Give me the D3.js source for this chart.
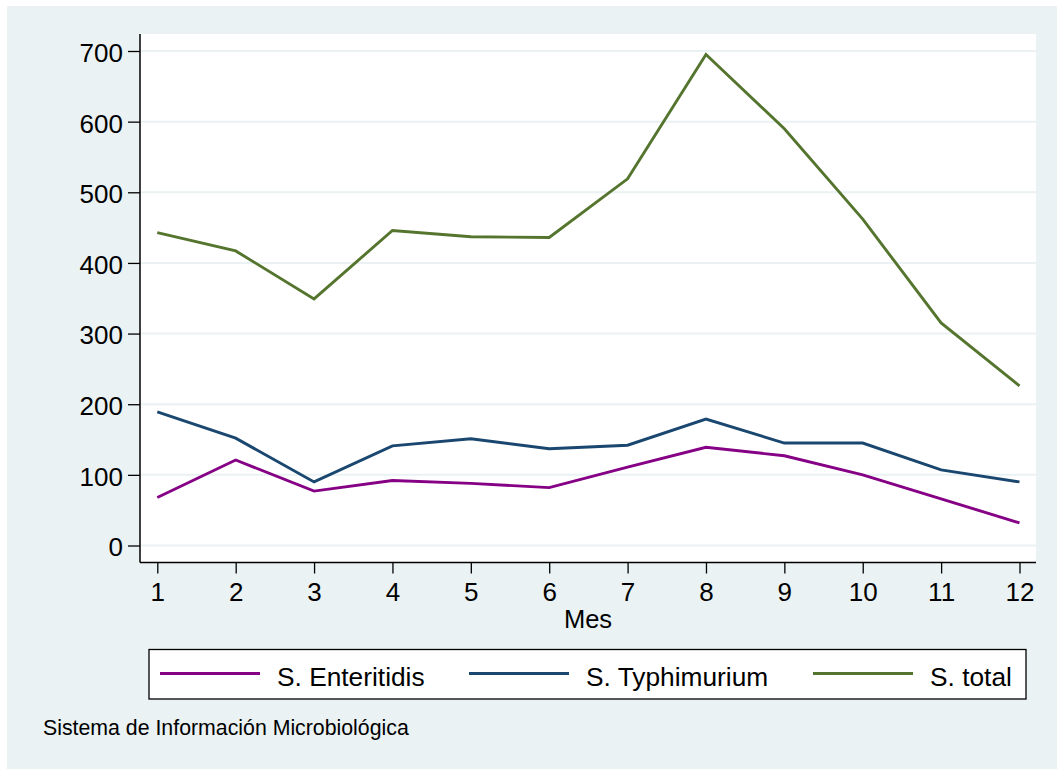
<!DOCTYPE html>
<html>
<head>
<meta charset="utf-8">
<script src="https://cdn.jsdelivr.net/npm/d3@7"></script>
<style>
  html, body { margin: 0; padding: 0; background: #ffffff; }
  svg { display: block; font-family: "Liberation Sans", Arial, Helvetica, sans-serif; }
</style>
</head>
<body>
<svg id="chart" width="1057" height="769"></svg>
<script>
// Monthly Salmonella isolates
const months = [1, 2, 3, 4, 5, 6, 7, 8, 9, 10, 11, 12];
const enteritidis = [68, 121, 77, 92, 88, 82, 111, 139, 127, 100, 66, 32];
const typhimurium = [189, 152, 90, 141, 151, 137, 142, 179, 145, 145, 107, 90];
const total = [443, 417, 349, 446, 437, 436, 519, 695, 590, 462, 315, 226];
const yTicks = [0, 100, 200, 300, 400, 500, 600, 700];
const seriesNames = ["S. Enteritidis", "S. Typhimurium", "S. total"];
const xTitle = "Mes";
const note = "Sistema de Información Microbiológica";

const colors = ["#850085", "#1a476f", "#55752f"];
const series = [enteritidis, typhimurium, total];

const svg = d3.select("#chart");
const bg = "#eaf2f3";

// outer graph region
svg.append("rect").attr("x", 7).attr("y", 6).attr("width", 1050).attr("height", 763).attr("fill", bg);

// plot region
const plot = { left: 140, right: 1036, top: 34, bottom: 562.5 };
svg.append("rect")
  .attr("x", plot.left).attr("y", plot.top)
  .attr("width", plot.right - plot.left).attr("height", plot.bottom - plot.top)
  .attr("fill", "#ffffff");

const x = d3.scaleLinear().domain([1, 12]).range([157.3, 1019.5]);
const y = d3.scaleLinear().domain([0, 700]).range([545.5, 51]);

// horizontal grid
svg.append("g").selectAll("line").data(yTicks).join("line")
  .attr("x1", plot.left + 1).attr("x2", plot.right)
  .attr("y1", d => y(d)).attr("y2", d => y(d))
  .attr("stroke", bg).attr("stroke-width", 2);

// y axis
const yAxis = svg.append("g")
  .attr("transform", `translate(${plot.left},0)`)
  .call(d3.axisLeft(y).tickValues(yTicks).tickSize(12).tickPadding(5).tickFormat(d3.format("d")));
yAxis.select(".domain").attr("d", `M0,${plot.top}V${plot.bottom}`);

// x axis
const xAxis = svg.append("g")
  .attr("transform", `translate(0,${plot.bottom})`)
  .call(d3.axisBottom(x).tickValues(months).tickSize(11).tickPadding(9).tickFormat(d3.format("d")));
xAxis.select(".domain").attr("d", `M${plot.left},0H${plot.right}`);

[yAxis, xAxis].forEach(g => {
  g.select(".domain").attr("stroke", "#000").attr("stroke-width", 1.5).attr("fill", "none");
  g.selectAll(".tick line").attr("stroke", "#000").attr("stroke-width", 1.3);
  g.selectAll(".tick text").attr("fill", "#000").style("font-size", "26px")
    .style("font-family", "'Liberation Sans', Arial, sans-serif");
});
yAxis.selectAll(".tick text").attr("dy", "0.4em");

// x axis title
svg.append("text")
  .attr("x", (plot.left + plot.right) / 2).attr("y", 628)
  .attr("text-anchor", "middle").attr("font-size", 25.5).attr("fill", "#000")
  .text(xTitle);

// series lines
const line = d3.line().x((d, i) => x(months[i])).y(d => y(d));
svg.append("g").selectAll("path").data(series).join("path")
  .attr("d", d => line(d))
  .attr("fill", "none")
  .attr("stroke", (d, i) => colors[i])
  .attr("stroke-width", 2.9)
  .attr("stroke-linejoin", "miter");

// legend
const legend = svg.append("g");
legend.append("rect")
  .attr("x", 149).attr("y", 649.5).attr("width", 877).attr("height", 49.5)
  .attr("fill", "#fff").attr("stroke", "#000").attr("stroke-width", 1.3);
const legendX = [160, 469, 813];
seriesNames.forEach((name, i) => {
  legend.append("line")
    .attr("x1", legendX[i]).attr("x2", legendX[i] + 100)
    .attr("y1", 673.5).attr("y2", 673.5)
    .attr("stroke", colors[i]).attr("stroke-width", 2.9);
  legend.append("text")
    .attr("x", legendX[i] + 117).attr("y", 686)
    .attr("font-size", 26.3).attr("fill", "#000")
    .text(name);
});

// source note
svg.append("text")
  .attr("x", 43).attr("y", 735)
  .attr("font-size", 21.3).attr("fill", "#000")
  .text(note);
</script>
</body>
</html>
